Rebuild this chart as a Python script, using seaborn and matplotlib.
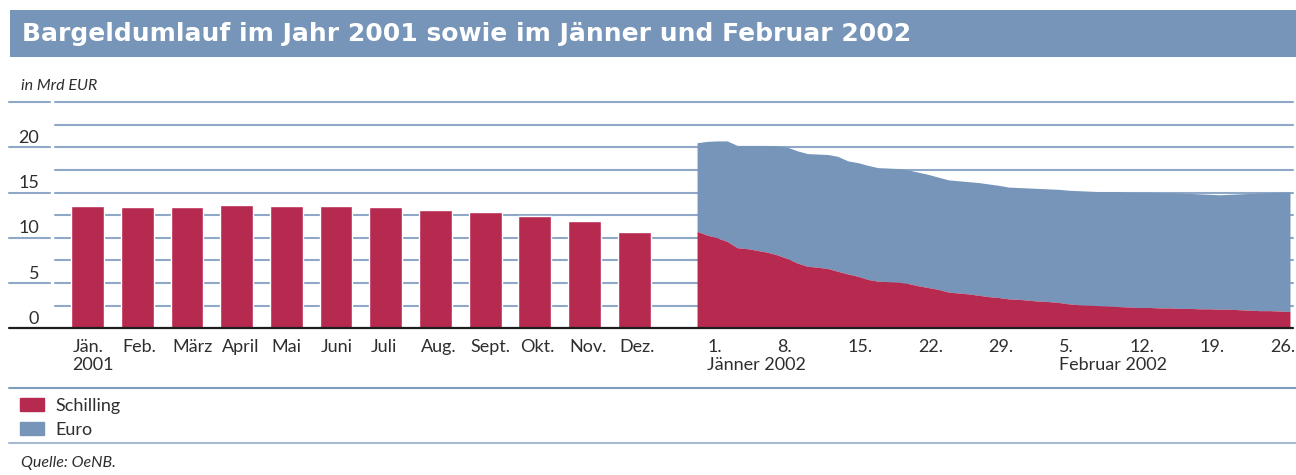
import matplotlib
matplotlib.use("Agg")
import matplotlib.pyplot as plt
from matplotlib.patches import Patch, Rectangle
from matplotlib.lines import Line2D
import seaborn as sns
import numpy as np
import pandas as pd

# Monatswerte 2001 (Mrd EUR)
monate = ["Jän.\n2001", "Feb.", "März", "April", "Mai", "Juni", "Juli",
          "Aug.", "Sept.", "Okt.", "Nov.", "Dez."]
umlauf_2001 = [13.5, 13.4, 13.4, 13.6, 13.5, 13.5, 13.4, 13.1, 12.9, 12.4, 11.9, 10.65]

# Tageswerte Jänner/Februar 2002 (Mrd EUR)
gesamt_2002 = [20.5, 20.65, 20.7, 20.7, 20.2, 20.2, 20.2, 20.2, 20.15, 20.0,
               19.6, 19.3, 19.25, 19.2, 19.0, 18.5, 18.3, 18.0, 17.75, 17.7,
               17.65, 17.5, 17.25, 17.0, 16.7, 16.4, 16.3, 16.2, 16.1, 15.95,
               15.8, 15.6, 15.55, 15.5, 15.45, 15.4, 15.35, 15.25, 15.2, 15.15,
               15.1, 15.1, 15.1, 15.05, 15.05, 15.05, 15.0, 15.0, 14.95, 14.9,
               14.85, 14.8, 14.75, 14.8, 14.85, 14.9, 14.95, 15.0, 15.05, 15.05]
schilling_2002 = [10.7, 10.3, 10.0, 9.6, 8.9, 8.8, 8.6, 8.4, 8.1, 7.7,
                  7.2, 6.85, 6.75, 6.6, 6.3, 6.0, 5.75, 5.4, 5.2, 5.15,
                  5.1, 4.95, 4.7, 4.5, 4.3, 4.0, 3.9, 3.8, 3.65, 3.5,
                  3.4, 3.25, 3.2, 3.1, 3.0, 2.95, 2.85, 2.7, 2.6, 2.55,
                  2.5, 2.45, 2.4, 2.35, 2.3, 2.3, 2.25, 2.25, 2.2, 2.2,
                  2.15, 2.15, 2.1, 2.1, 2.05, 2.0, 1.95, 1.95, 1.9, 1.85]
tage_ticks = [1, 8, 15, 22, 29, 36, 43, 50, 57]
tage_labels = ["1.", "8.", "15.", "22.", "29.", "5.", "12.", "19.", "26."]
monat_2002 = {1: "Jänner 2002", 36: "Februar 2002"}
y_labels = [0, 5, 10, 15, 20]

rot = "#b72a4f"
blau = "#7695b8"
grid_col = "#8fa8c7"
text_col = "#2e2e2e"

sns.set_theme(style="white")
plt.rcParams["font.family"] = ["Lato", "DejaVu Sans"]

W, H = 1296, 475
fig = plt.figure(figsize=(W / 100, H / 100), dpi=100)


def fx(px):
    return px / W


def fy(py):
    return 1 - py / H


y0, y1 = 328.3, 102.0
h = (y0 - y1) / H
ax_lab = fig.add_axes([fx(9), fy(y0), fx(55) - fx(9), h])
ax_bar = fig.add_axes([fx(55), fy(y0), fx(690) - fx(55), h])
ax_area = fig.add_axes([fx(690), fy(y0), fx(1293) - fx(690), h])

for ax in (ax_lab, ax_bar, ax_area):
    ax.set_ylim(0, 25)
    ax.set_facecolor("none")
    for s in ax.spines.values():
        s.set_visible(False)
    ax.set_yticks([])
    ax.axhline(0, color="#1e1e1e", lw=1.6, clip_on=False, zorder=5)

# Beschriftungsspalte links
ax_lab.set_xlim(0, 1)
ax_lab.set_xticks([])
for v in y_labels + [25]:
    if v > 0:
        ax_lab.axhline(v, xmin=0, xmax=0.89, color=grid_col, lw=1.5, clip_on=False)
for v in y_labels:
    ax_lab.text(0.66, v + 0.5, str(v), ha="right", va="baseline",
                fontsize=13, color=text_col)

# Gitterlinien
for ax in (ax_bar, ax_area):
    for v in np.arange(2.5, 25.1, 2.5):
        ax.axhline(v, color=grid_col, lw=1.5, zorder=0, clip_on=False)

# Balken 2001
df_2001 = pd.DataFrame({"Monat": monate, "Umlauf": umlauf_2001})
sns.barplot(data=df_2001, x="Monat", y="Umlauf", color=rot, saturation=1,
            width=0.66, ax=ax_bar, zorder=2)
ax_bar.set_xlim(-0.654, 12.12)
ax_bar.set_ylim(0, 25)
ax_bar.set_xticks(np.arange(len(monate)) - 0.3)
ax_bar.set_xticklabels(monate, ha="left", fontsize=13, color=text_col,
                       linespacing=1.15)
ax_bar.tick_params(axis="x", length=0, pad=8)
ax_bar.set_xlabel("")
ax_bar.set_ylabel("")

# Flächen 2002
tage = np.arange(len(gesamt_2002))
ax_area.fill_between(tage, schilling_2002, gesamt_2002, color=blau, lw=0, zorder=2)
ax_area.fill_between(tage, 0, schilling_2002, color=rot, lw=0, zorder=3)
ax_area.set_xlim(-0.70, 59.3)
ax_area.set_xticks(tage_ticks)
ax_area.set_xticklabels(tage_labels, ha="left", fontsize=13, color=text_col)
ax_area.tick_params(axis="x", length=0, pad=8)
for tag, name in monat_2002.items():
    ax_area.text(tag, -0.125, name, transform=ax_area.get_xaxis_transform(),
                 ha="left", va="top", fontsize=13, color=text_col)

# Titelbalken
fig.add_artist(Rectangle((fx(10), fy(57)), 1 - fx(10), (57 - 10) / H,
                         transform=fig.transFigure, color=blau, lw=0))
fig.text(fx(22), fy(33.5), "Bargeldumlauf im Jahr 2001 sowie im Jänner und Februar 2002",
         color="white", fontsize=18, fontweight="heavy", va="center",
         family=["DejaVu Sans"])
fig.text(fx(21), fy(86), "in Mrd EUR", fontsize=11.5, style="italic",
         color=text_col, va="center")

# Trennlinien
fig.add_artist(Line2D([fx(9), 1], [fy(388), fy(388)], color="#7f9cc0", lw=1.5))
fig.add_artist(Line2D([fx(9), 1], [fy(443), fy(443)], color="#a7bad2", lw=1.5))

# Legende
handles = [Patch(color=rot, label="Schilling"), Patch(color=blau, label="Euro")]
fig.legend(handles=handles, loc="upper left", bbox_to_anchor=(fx(20), fy(398)),
           frameon=False, handlelength=1.35, handleheight=0.7,
           handletextpad=0.6, labelspacing=0.45, borderpad=0, borderaxespad=0,
           labelcolor=text_col, prop={"size": 13})

fig.text(fx(21), fy(463), "Quelle: OeNB.", fontsize=11.5, style="italic",
         color=text_col, va="center")

fig.savefig("out.png", dpi=100)
